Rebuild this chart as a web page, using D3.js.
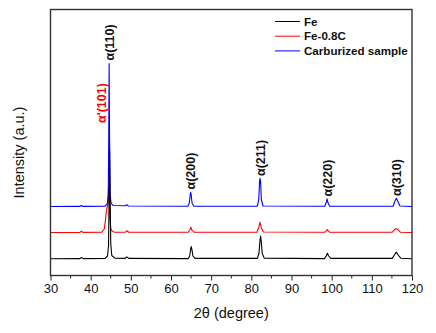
<!DOCTYPE html>
<html><head><meta charset="utf-8">
<script src="https://cdn.jsdelivr.net/npm/d3@7"></script>
<style>
html,body{margin:0;padding:0;background:#fff;}
svg{display:block;font-family:Arial,"Liberation Sans",sans-serif;}
</style></head>
<body><svg id="c" width="436" height="333"></svg>
<script>
// ---- data (2θ in degrees, intensity in a.u., offset stacks as in the figure)
const seriesNames = ["Fe", "Fe-0.8C", "Carburized sample"];
const seriesColors = ["#000000", "#ff0000", "#0000ff"];
const xTicks = [30,40,50,60,70,80,90,100,110,120];
const xMinorTicks = [35,45,55,65,75,85,95,105,115];

const feData = [
 [30,168],[37.3,169],[37.7,180],[38.1,169],[43.6,171],[44.2,195],[44.45,300],[44.6,800],[44.72,1260],
 [44.85,800],[45.0,320],[45.25,200],[46,174],[48.6,171],[49.0,186],[49.5,171],
 [64.3,169],[64.65,195],[64.9,265],[65.05,290],[65.2,262],[65.45,195],[66.0,171],
 [81.5,171],[81.9,220],[82.15,350],[82.3,395],[82.45,350],[82.7,222],[83.2,174],
 [98.2,169],[98.65,195],[98.95,222],[99.25,195],[99.8,171],
 [115.1,171],[115.6,205],[116.1,234],[116.55,205],[117.2,173],[120,168]
];
const fe08cData = [
 [30,430],[37.3,431],[37.7,443],[38.1,431],[42.8,434],[43.4,468],[43.7,560],[43.95,660],[44.1,682],
 [44.3,730],[44.45,880],[44.6,760],[44.8,560],[45.0,470],[45.4,440],[46,433],
 [48.6,432],[49.0,448],[49.5,432],
 [64.3,432],[64.7,455],[64.95,482],[65.2,455],[65.7,433],
 [81.4,434],[81.85,480],[82.15,535],[82.45,480],[83.0,435],
 [98.3,432],[98.9,460],[99.5,432],
 [115.1,433],[115.9,468],[116.3,466],[117.1,433],[120,430]
];
const carbData = [
 [30,690],[37.3,691],[37.7,700],[38.1,691],[43.6,694],[44.15,720],[44.38,800],[44.5,1400],[44.6,2120],
 [44.7,1400],[44.85,800],[45.1,722],[45.6,700],[48.6,697],[49.0,707],[49.4,695],
 [64.2,692],[64.55,722],[64.8,812],[64.9,832],[65.0,812],[65.25,722],[65.7,693],
 [81.5,693],[81.85,760],[82.05,940],[82.15,972],[82.3,940],[82.5,760],[82.9,695],
 [98.3,692],[98.65,730],[98.85,766],[99.05,730],[99.5,693],
 [115.3,693],[115.7,740],[116.1,772],[116.5,740],[117.0,695],[120,690]
];
const peakLabels = ["α(110)","α(200)","α(211)","α(220)","α(310)"];
const peakPos = [44.6, 64.9, 82.2, 98.9, 116.1];
const peakLabelTop = [2150, 860, 995, 790, 795];
const martLabel = "α'(101)";
const martPos = 42.7;
const martTop = 1525;

// ---- layout
const svg = d3.select("#c");
const L = 50.5, R = 412, T = 9.5, B = 275.5;
const x = d3.scaleLinear().domain([30,120]).range([L,R]);
const y = d3.scaleLinear().domain([0,2660]).range([B,T]);

// axis
const xAxis = d3.axisBottom(x).tickValues(xTicks).tickSize(5).tickPadding(3).tickFormat(d3.format("d"));
const gx = svg.append("g").attr("transform",`translate(0,${B})`).call(xAxis);
gx.select(".domain").remove();
gx.selectAll("line").attr("stroke","#222").attr("stroke-width",1);
gx.selectAll("text").attr("font-size",13).attr("fill","#111").attr("font-family","Arial, 'Liberation Sans', sans-serif");
svg.append("g").selectAll("line").data(xMinorTicks).join("line")
  .attr("x1",d=>x(d)).attr("x2",d=>x(d)).attr("y1",B).attr("y2",B+3)
  .attr("stroke","#222").attr("stroke-width",1);

// lines
const line = d3.line().x(d=>x(d[0])).y(d=>y(d[1]));
const datasets = [feData, fe08cData, carbData];
[1,2,0].forEach(i=>{
  svg.append("path").datum(datasets[i]).attr("d",line)
    .attr("fill","none").attr("stroke",seriesColors[i]).attr("stroke-width",1.1)
    .attr("stroke-linejoin","round");
});

// frame
svg.append("rect").attr("x",L).attr("y",T).attr("width",R-L).attr("height",B-T)
  .attr("fill","none").attr("stroke","#333").attr("stroke-width",1.4);

// peak labels (rotated)
peakLabels.forEach((t,i)=>{
  const px = x(peakPos[i]) + 4.5, py = y(peakLabelTop[i]);
  svg.append("text").attr("transform",`translate(${px},${py}) rotate(-90)`)
    .attr("font-size",12.5).attr("font-weight","bold").attr("fill","#111").text(t);
});
svg.append("text").attr("transform",`translate(${x(martPos)+4.5},${y(martTop)}) rotate(-90)`)
  .attr("font-size",12.5).attr("font-weight","bold").attr("fill","#ff0000").text(martLabel);

// legend
seriesNames.forEach((n,i)=>{
  const ly = 21.5 + i*14.7;
  svg.append("line").attr("x1",275).attr("x2",300).attr("y1",ly).attr("y2",ly)
    .attr("stroke",seriesColors[i]).attr("stroke-width",1);
  svg.append("text").attr("x",304).attr("y",ly+4.2).attr("font-size",11.6)
    .attr("font-weight","bold").attr("fill","#111").text(n);
});

// axis titles
svg.append("text").attr("x",(L+R)/2).attr("y",318).attr("text-anchor","middle")
  .attr("font-size",14.5).attr("fill","#111").text("2θ (degree)");
svg.append("text").attr("transform",`translate(24,${(T+B)/2 + 10}) rotate(-90)`)
  .attr("text-anchor","middle").attr("font-size",14.5).attr("fill","#111").text("Intensity (a.u.)");
</script></body></html>
